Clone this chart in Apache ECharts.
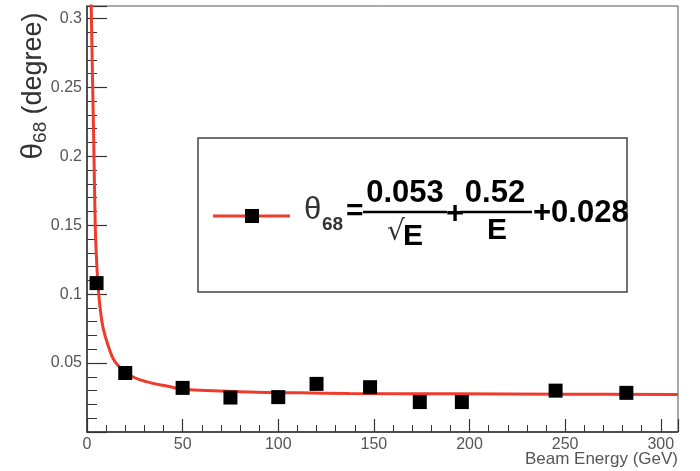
<!DOCTYPE html>
<html>
<head>
<meta charset="utf-8">
<script src="https://cdn.jsdelivr.net/npm/echarts@6/dist/echarts.min.js"></script>
<style>
  html, body { margin: 0; padding: 0; background: #fff; }
  #chart { width: 700px; height: 471px; }
</style>
</head>
<body>
<div id="chart"></div>
<script>
// measured points (beam energy in GeV, theta68 in degree)
const energy = [5, 20, 50, 75, 100, 120, 148, 174, 196, 245, 282];
const theta68 = [0.108, 0.0428, 0.032, 0.025, 0.0253, 0.0349, 0.0325, 0.0217, 0.0217, 0.030, 0.0284];

// fit curve
const fitEnergy = [2.0, 2.2, 3.6, 4.3, 5.0, 5.8, 7.1, 8.5, 11, 14.6, 22, 31, 43, 50, 85, 111, 137, 190, 250, 309];
const fitTheta = [0.335, 0.309, 0.205, 0.15, 0.125, 0.106, 0.087, 0.075, 0.063, 0.051, 0.0416, 0.0365, 0.033, 0.031, 0.029, 0.0284, 0.028, 0.0277, 0.0274, 0.0272];

const RED = '#ee3b2b';
const FONT = 'Liberation Sans';

const chart = echarts.init(document.getElementById('chart'));

const option = {
  animation: false,
  grid: {
    left: 87, right: 22, top: 6, bottom: 39,
    outerBoundsMode: 'none', containLabel: false,
    show: true, borderColor: '#555', borderWidth: 1, backgroundColor: '#fff'
  },
  xAxis: {
    type: 'value', min: 0, max: 309, interval: 50,
    axisLine: { lineStyle: { color: '#333', width: 1.5 } },
    axisTick: { inside: true, length: 13, lineStyle: { color: '#333', width: 1.2 } },
    minorTick: { show: true, splitNumber: 5, length: 7, lineStyle: { color: '#333', width: 1 } },
    axisLabel: { color: '#555', fontSize: 16, fontFamily: FONT, margin: 5, showMaxLabel: false },
    splitLine: { show: false }
  },
  yAxis: {
    type: 'value', min: 0, max: 0.309, interval: 0.05,
    axisLine: { lineStyle: { color: '#333', width: 1.5 } },
    axisTick: { inside: true, length: 20, lineStyle: { color: '#333', width: 1.2 } },
    minorTick: { show: true, splitNumber: 5, length: 10, lineStyle: { color: '#333', width: 1 } },
    axisLabel: { color: '#555', fontSize: 16, fontFamily: FONT, margin: 5, showMinLabel: false, showMaxLabel: false },
    splitLine: { show: false }
  },
  series: [
    {
      name: 'fit',
      type: 'line',
      data: fitEnergy.map((e, i) => [e, fitTheta[i]]),
      showSymbol: false,
      smooth: 0.4,
      clip: true,
      lineStyle: { color: RED, width: 3 },
      z: 2
    },
    {
      name: 'data',
      type: 'scatter',
      data: energy.map((e, i) => [e, theta68[i]]),
      symbol: 'rect',
      symbolSize: 14,
      itemStyle: { color: '#000', opacity: 1 },
      z: 3
    }
  ],
  graphic: [
    // axis titles
    {
      type: 'text', x: 34, y: 86, rotation: Math.PI / 2,
      style: {
        text: '{a|θ}{b|68} {c|(degree)}',
        align: 'center', verticalAlign: 'middle',
        fill: '#333',
        rich: {
          a: { fontSize: 30, fontFamily: FONT, fill: '#333' },
          b: { fontSize: 19, fontFamily: FONT, fill: '#333', padding: [13, 4, 0, 0] },
          c: { fontSize: 27, fontFamily: FONT, fill: '#333' }
        }
      }
    },
    {
      type: 'text', x: 678, y: 459,
      style: { text: 'Beam Energy (GeV)', font: '17px ' + FONT, fill: '#555', align: 'right', verticalAlign: 'middle' }
    },
    // legend box
    {
      type: 'rect', shape: { x: 198, y: 138, width: 429, height: 154 },
      style: { fill: '#fff', stroke: '#444', lineWidth: 1.5 }, z: 10
    },
    {
      type: 'line', shape: { x1: 213, y1: 216, x2: 290, y2: 216 },
      style: { stroke: RED, lineWidth: 3 }, z: 11
    },
    {
      type: 'rect', shape: { x: 245, y: 209, width: 14, height: 14 },
      style: { fill: '#000' }, z: 12
    },
    {
      type: 'text', x: 304, y: 210, z: 11,
      style: { text: 'θ', font: '31px ' + FONT, fill: '#333', verticalAlign: 'middle' }
    },
    {
      type: 'text', x: 322, y: 225, z: 11,
      style: { text: '68', font: 'bold 19px ' + FONT, fill: '#333', verticalAlign: 'middle' }
    },
    {
      type: 'text', x: 346, y: 212, z: 11,
      style: { text: '=', font: 'bold 30px ' + FONT, fill: '#000', verticalAlign: 'middle' }
    },
    {
      type: 'text', x: 405, y: 193, z: 11,
      style: { text: '0.053', font: 'bold 31px ' + FONT, fill: '#000', align: 'center', verticalAlign: 'middle' }
    },
    {
      type: 'line', shape: { x1: 363, y1: 212, x2: 447, y2: 212 },
      style: { stroke: '#000', lineWidth: 2.5 }, z: 11
    },
    {
      type: 'text', x: 396, y: 233, z: 11,
      style: { text: '√', font: '28px DejaVu Sans', fill: '#333', align: 'center', verticalAlign: 'middle' }
    },
    {
      type: 'text', x: 413, y: 237, z: 11,
      style: { text: 'E', font: 'bold 30px ' + FONT, fill: '#000', align: 'center', verticalAlign: 'middle' }
    },
    {
      type: 'text', x: 455, y: 214, z: 11,
      style: { text: '+', font: 'bold 31px ' + FONT, fill: '#000', align: 'center', verticalAlign: 'middle' }
    },
    {
      type: 'text', x: 495, y: 193, z: 11,
      style: { text: '0.52', font: 'bold 31px ' + FONT, fill: '#000', align: 'center', verticalAlign: 'middle' }
    },
    {
      type: 'line', shape: { x1: 460, y1: 212, x2: 532, y2: 212 },
      style: { stroke: '#000', lineWidth: 2.5 }, z: 11
    },
    {
      type: 'text', x: 497, y: 231, z: 11,
      style: { text: 'E', font: 'bold 30px ' + FONT, fill: '#000', align: 'center', verticalAlign: 'middle' }
    },
    {
      type: 'text', x: 533, y: 213, z: 11,
      style: { text: '+0.028', font: 'bold 31px ' + FONT, fill: '#000', verticalAlign: 'middle' }
    }
  ]
};

chart.setOption(option);
</script>
</body>
</html>
